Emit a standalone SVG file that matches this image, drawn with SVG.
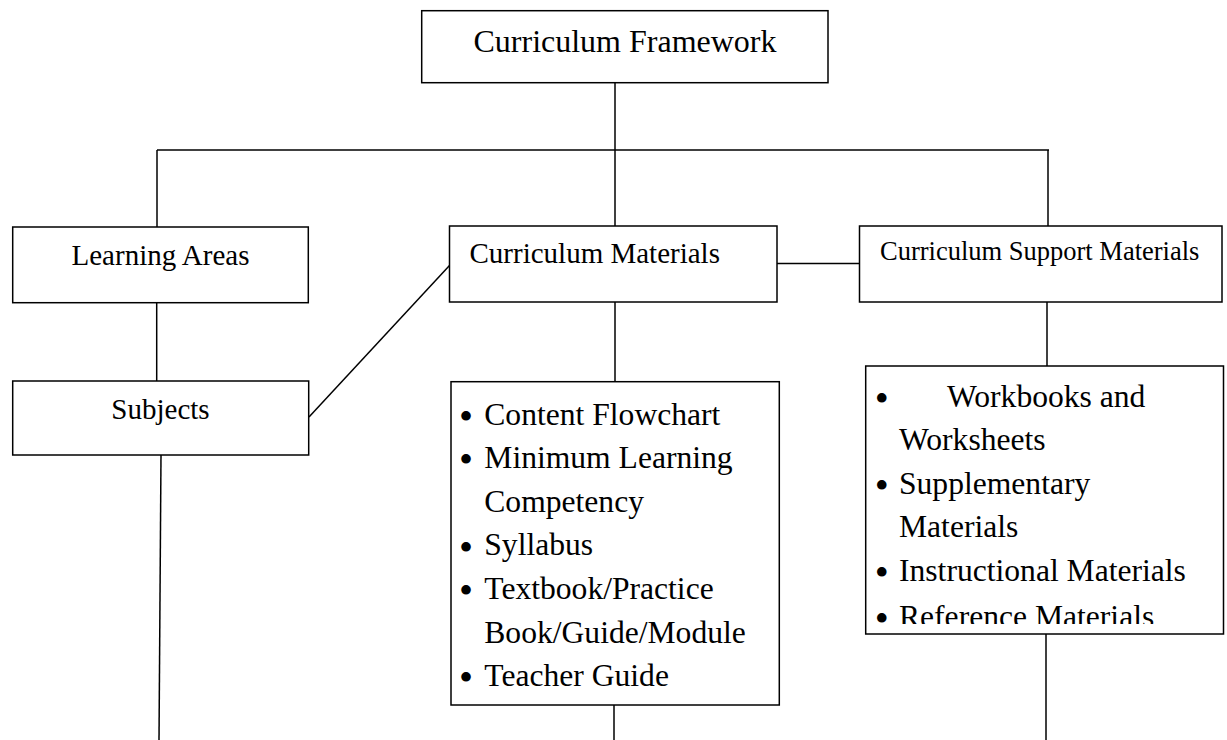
<svg xmlns="http://www.w3.org/2000/svg" width="1227" height="740" viewBox="0 0 1227 740">
  <style>
    .box { fill: #ffffff; stroke: #000000; stroke-width: 1.5; }
    .conn { fill: none; stroke: #000000; stroke-width: 1.5; }
    text { font-family: "Liberation Serif", "Times New Roman", serif; fill: #000000; }
    .t32 { font-size: 32px; }
    .t29 { font-size: 29px; }
    .t26 { font-size: 26.5px; }
    .list { font-size: 31.6px; }
    .dot { font-size: 40px; }
    .mid { text-anchor: middle; }
  </style>
  <defs>
    <clipPath id="clip-support-list">
      <rect x="866" y="367" width="357" height="257"/>
    </clipPath>
  </defs>
  <rect width="1227" height="740" fill="#ffffff"/>

  <!-- connectors -->
  <g id="connectors">
    <line class="conn" x1="615" y1="82.7" x2="615" y2="150"/>
    <line class="conn" x1="157" y1="150" x2="1049" y2="150"/>
    <line class="conn" x1="157" y1="150" x2="157" y2="227"/>
    <line class="conn" x1="615" y1="150" x2="615" y2="226"/>
    <line class="conn" x1="1048" y1="150" x2="1048" y2="226"/>
    <line class="conn" x1="156.7" y1="302.7" x2="156.7" y2="381"/>
    <line class="conn" x1="309" y1="417" x2="449.5" y2="265.5"/>
    <line class="conn" x1="777" y1="263.5" x2="859.5" y2="263.5"/>
    <line class="conn" x1="615" y1="302" x2="615" y2="381.7"/>
    <line class="conn" x1="614" y1="705" x2="614" y2="740"/>
    <line class="conn" x1="1047" y1="302" x2="1047" y2="366"/>
    <line class="conn" x1="1046" y1="634" x2="1046" y2="740"/>
    <line class="conn" x1="161" y1="455" x2="159" y2="740"/>
  </g>

  <g id="curriculum-framework">
    <rect class="box" x="421.7" y="10.7" width="406.3" height="72"/>
    <text class="t32 mid" x="625" y="52">Curriculum Framework</text>
  </g>

  <g id="learning-areas">
    <rect class="box" x="12.7" y="227" width="295.6" height="75.7"/>
    <text class="t29 mid" x="160.5" y="265">Learning Areas</text>
  </g>

  <g id="curriculum-materials">
    <rect class="box" x="449.5" y="226" width="327.5" height="76"/>
    <text class="t29" x="469.5" y="263">Curriculum Materials</text>
  </g>

  <g id="curriculum-support-materials">
    <rect class="box" x="859.5" y="226" width="362.5" height="76"/>
    <text class="t26" x="880" y="260">Curriculum Support Materials</text>
  </g>

  <g id="subjects">
    <rect class="box" x="12.7" y="381" width="296" height="74"/>
    <text class="t29 mid" x="160.5" y="419">Subjects</text>
  </g>

  <g id="materials-list">
    <rect class="box" x="451" y="381.7" width="328.3" height="323.3"/>
    <text class="dot" x="459" y="429.8">•</text>
    <text class="list" x="484.3" y="424.5">Content Flowchart</text>
    <text class="dot" x="459" y="473.4">•</text>
    <text class="list" x="484.3" y="468.1">Minimum Learning</text>
    <text class="list" x="484.3" y="511.7">Competency</text>
    <text class="dot" x="459" y="560.6">•</text>
    <text class="list" x="484.3" y="555.3">Syllabus</text>
    <text class="dot" x="459" y="604.2">•</text>
    <text class="list" x="484.3" y="598.9">Textbook/Practice</text>
    <text class="list" x="484.3" y="642.5">Book/Guide/Module</text>
    <text class="dot" x="459" y="691.4">•</text>
    <text class="list" x="484.3" y="686.1">Teacher Guide</text>
  </g>

  <g id="support-list">
    <rect class="box" x="865.7" y="366" width="357.8" height="268"/>
    <g clip-path="url(#clip-support-list)">
      <text class="dot" x="874.7" y="411.8">•</text>
      <text class="list" x="947" y="406.5">Workbooks and</text>
      <text class="list" x="899" y="450.1">Worksheets</text>
      <text class="dot" x="874.7" y="499">•</text>
      <text class="list" x="899" y="493.7">Supplementary</text>
      <text class="list" x="899" y="537.3">Materials</text>
      <text class="dot" x="874.7" y="586.2">•</text>
      <text class="list" x="899" y="580.9">Instructional Materials</text>
      <text class="dot" x="874.7" y="632.3">•</text>
      <text class="list" x="899" y="627">Reference Materials</text>
    </g>
  </g>
</svg>
